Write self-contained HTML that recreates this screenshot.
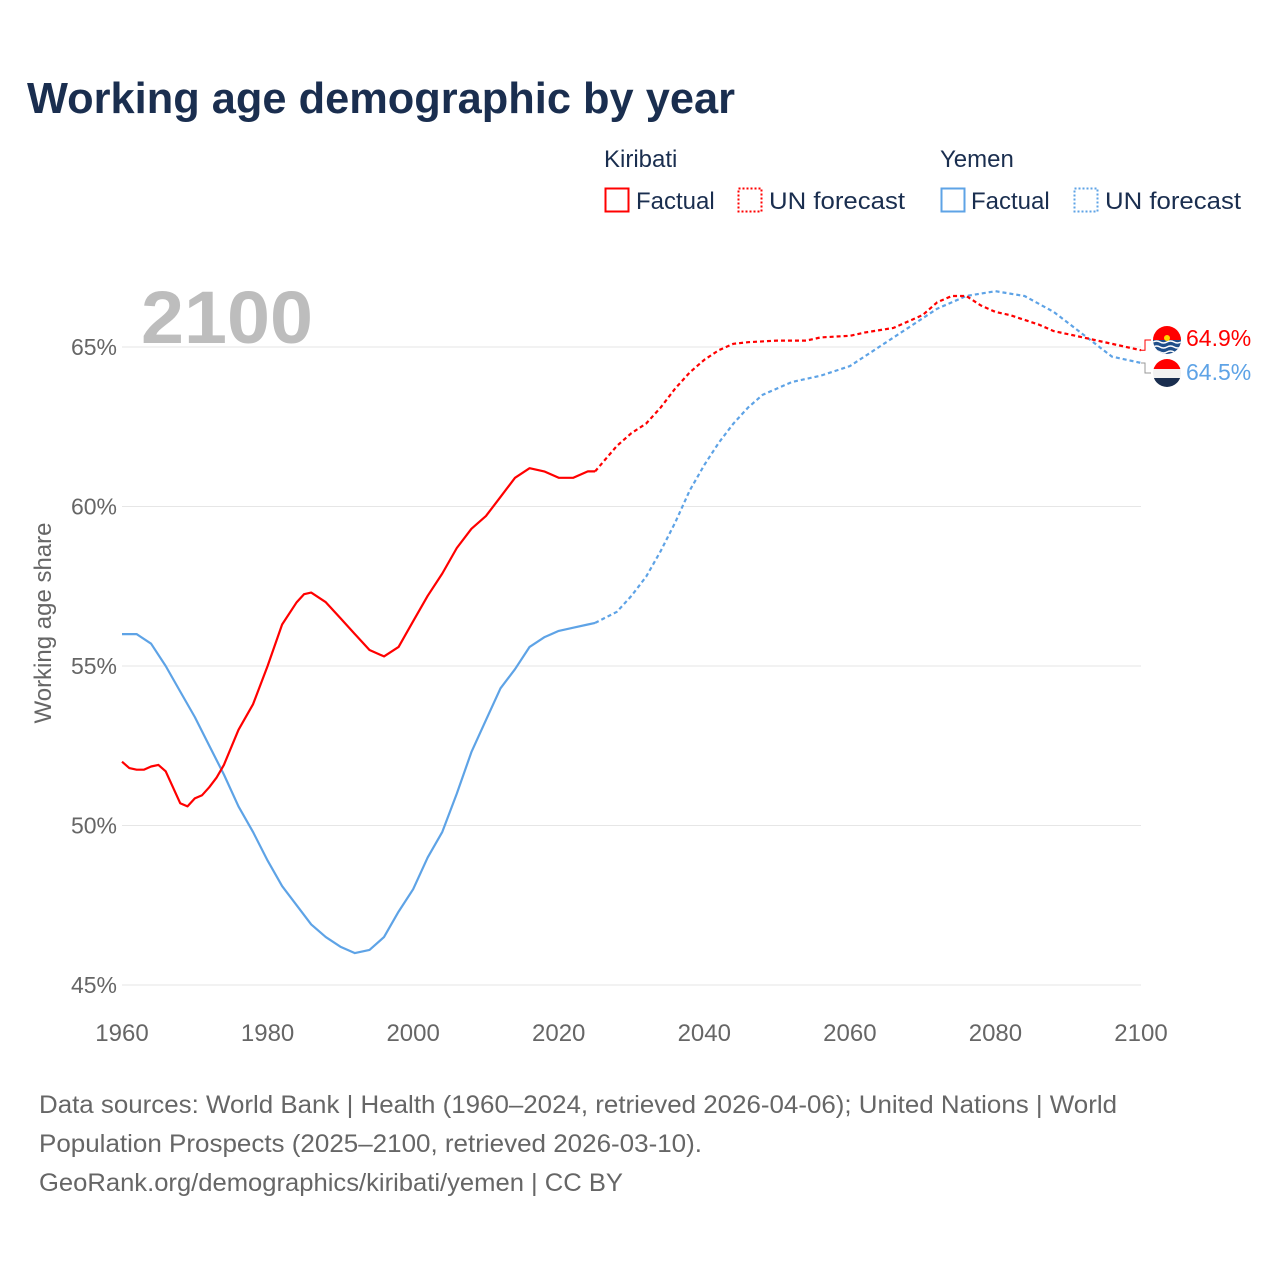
<!DOCTYPE html>
<html><head><meta charset="utf-8">
<style>
body{margin:0;background:#fff;}
svg{display:block;font-family:"Liberation Sans",sans-serif;}
</style></head>
<body>
<svg id="chart" width="1280" height="1280" viewBox="0 0 1280 1280" xmlns="http://www.w3.org/2000/svg">
<rect width="1280" height="1280" fill="#fff"/>
<text x="27" y="113" font-size="44" font-weight="bold" fill="#1a2e4f" textLength="708" lengthAdjust="spacingAndGlyphs">Working age demographic by year</text>
<g font-size="24" fill="#1a2e4f">
<text x="604" y="167">Kiribati</text>
<text x="940" y="167">Yemen</text>
<g><rect x="605.5" y="188.5" width="23" height="23" fill="none" stroke="#ff0000" stroke-width="2"/><text x="636" y="209">Factual</text></g>
<g><rect x="738.5" y="188.5" width="23" height="23" fill="none" stroke="#ff0000" stroke-width="2" stroke-dasharray="2,2"/><text x="769" y="209" textLength="136" lengthAdjust="spacingAndGlyphs">UN forecast</text></g>
<g><rect x="941.5" y="188.5" width="23" height="23" fill="none" stroke="#5ea3e6" stroke-width="2"/><text x="971" y="209">Factual</text></g>
<g><rect x="1074.5" y="188.5" width="23" height="23" fill="none" stroke="#5ea3e6" stroke-width="2" stroke-dasharray="2,2"/><text x="1105" y="209" textLength="136" lengthAdjust="spacingAndGlyphs">UN forecast</text></g>
</g>
<text x="141" y="343" font-size="74" font-weight="bold" fill="#bdbdbd" textLength="172" lengthAdjust="spacingAndGlyphs">2100</text>
<text transform="translate(51,623) rotate(-90)" text-anchor="middle" font-size="24" fill="#666">Working age share</text>
<g id="grid"></g>
<g id="series"></g>
<g font-size="25" fill="#666">
<text x="39" y="1113" textLength="1078" lengthAdjust="spacingAndGlyphs">Data sources: World Bank | Health (1960–2024, retrieved 2026-04-06); United Nations | World</text>
<text x="39" y="1152" textLength="663" lengthAdjust="spacingAndGlyphs">Population Prospects (2025–2100, retrieved 2026-03-10).</text>
<text x="39" y="1191" textLength="584" lengthAdjust="spacingAndGlyphs">GeoRank.org/demographics/kiribati/yemen | CC BY</text>
</g>
</svg>
<script>
const xTicks=[1960,1980,2000,2020,2040,2060,2080,2100];
const yTicks=[45,50,55,60,65];
const kirYears=[1960,1961,1962,1963,1964,1965,1966,1968,1969,1970,1971,1972,1973,1974,1976,1978,1980,1982,1984,1985,1986,1988,1990,1992,1994,1996,1998,2000,2002,2004,2006,2008,2010,2012,2014,2016,2018,2020,2022,2024,2025];
const kirVals=[52.0,51.8,51.75,51.75,51.85,51.9,51.7,50.7,50.6,50.85,50.95,51.2,51.5,51.9,53.0,53.8,55.0,56.3,57.0,57.25,57.3,57.0,56.5,56.0,55.5,55.3,55.6,56.4,57.2,57.9,58.7,59.3,59.7,60.3,60.9,61.2,61.1,60.9,60.9,61.1,61.1];
const kirFYears=[2025,2028,2030,2032,2034,2036,2038,2040,2042,2044,2046,2050,2054,2056,2060,2062,2066,2070,2072,2074,2076,2078,2080,2082,2086,2088,2090,2094,2096,2100];
const kirFVals=[61.1,61.9,62.3,62.6,63.1,63.7,64.2,64.6,64.9,65.1,65.15,65.2,65.2,65.3,65.35,65.45,65.6,66.0,66.4,66.6,66.6,66.3,66.1,66.0,65.7,65.5,65.4,65.2,65.1,64.9];
const yemYears=[1960,1962,1964,1966,1968,1970,1972,1974,1976,1978,1980,1982,1984,1986,1988,1990,1992,1994,1996,1998,2000,2002,2004,2006,2008,2010,2012,2014,2016,2018,2020,2022,2024,2025];
const yemVals=[56.0,56.0,55.7,55.0,54.2,53.4,52.5,51.6,50.6,49.8,48.9,48.1,47.5,46.9,46.5,46.2,46.0,46.1,46.5,47.3,48.0,49.0,49.8,51.0,52.3,53.3,54.3,54.9,55.6,55.9,56.1,56.2,56.3,56.35];
const yemFYears=[2025,2028,2030,2032,2034,2036,2038,2040,2042,2044,2046,2048,2050,2052,2056,2060,2064,2068,2072,2076,2080,2084,2088,2092,2096,2100];
const yemFVals=[56.35,56.7,57.2,57.8,58.6,59.5,60.5,61.3,62.0,62.6,63.1,63.5,63.7,63.9,64.1,64.4,65.0,65.6,66.2,66.6,66.75,66.6,66.1,65.4,64.7,64.5];
const NS="http://www.w3.org/2000/svg";
const X=y=>122+(y-1960)*(1019/140);
const Y=v=>347+(65-v)*31.9;
function mk(tag,attrs,parent){const e=document.createElementNS(NS,tag);for(const k in attrs)e.setAttribute(k,attrs[k]);parent.appendChild(e);return e;}
const grid=document.getElementById('grid');
yTicks.forEach(t=>{
 const l=mk('line',{x1:122,x2:1141,y1:Y(t),y2:Y(t),stroke:'#e6e6e6','stroke-width':1},grid);
 
 
 const tx=mk('text',{x:117,y:Y(t)+8,'text-anchor':'end','font-size':23,fill:'#666'},grid);
 tx.textContent=t+'%';
 
 
});
xTicks.forEach(t=>{
 const tx=mk('text',{x:X(t),y:1041,'text-anchor':'middle','font-size':24,fill:'#666'},grid);
 tx.textContent=t;
 
 
});
const ser=document.getElementById('series');
function line(ys,vs,color,dash,name){
 const d=ys.map((y,i)=>(i?'L':'M')+X(y).toFixed(1)+','+Y(vs[i]).toFixed(1)).join('');
 const p=mk('path',{d:d,fill:'none',stroke:color,'stroke-width':2.2,'stroke-linejoin':'round'},ser);
 if(dash)p.setAttribute('stroke-dasharray','4,3');
 
 
}
line(yemYears,yemVals,'#5ea3e6',false,'yemen-factual-line');
line(yemFYears,yemFVals,'#5ea3e6',true,'yemen-forecast-line');
line(kirYears,kirVals,'#ff0000',false,'kiribati-factual-line');
line(kirFYears,kirFVals,'#ff0000',true,'kiribati-forecast-line');
const kEnd=kirFVals[kirFVals.length-1], yEnd=yemFVals[yemFVals.length-1];
const c1=mk('path',{d:`M${X(2100)},${Y(kEnd)} h4 V${340} h6`,fill:'none',stroke:'#ff0000','stroke-width':1},ser);


const c2=mk('path',{d:`M${X(2100)},${Y(yEnd)} h4 V${373} h6`,fill:'none',stroke:'#999','stroke-width':1},ser);


const fk=mk('g',{},ser);


const ck=mk('clipPath',{id:'ck'},fk);
mk('circle',{cx:1167,cy:340,r:14},ck);
const gk=mk('g',{'clip-path':'url(#ck)'},fk);
mk('rect',{x:1153,y:326,width:28,height:14,fill:'#ff0000'},gk);
mk('rect',{x:1153,y:340,width:28,height:14,fill:'#1f4f8a'},gk);
[342,347,352].forEach(yy=>mk('path',{d:`M1153,${yy} q3.5,-2 7,0 t7,0 t7,0 t7,0`,fill:'none',stroke:'#fff','stroke-width':1.4},gk));
mk('circle',{cx:1167,cy:338,r:3,fill:'#ffd700'},gk);
const fy=mk('g',{},ser);


const cy=mk('clipPath',{id:'cy'},fy);
mk('circle',{cx:1167,cy:373,r:14},cy);
const gy=mk('g',{'clip-path':'url(#cy)'},fy);
mk('rect',{x:1153,y:359,width:28,height:10,fill:'#ff0000'},gy);
mk('rect',{x:1153,y:369,width:28,height:9,fill:'#f2f2f2'},gy);
mk('rect',{x:1153,y:378,width:28,height:9,fill:'#1a2e4f'},gy);
const tk=mk('text',{x:1186,y:346,'font-size':23,fill:'#ff0000'},ser);
tk.textContent=kEnd.toFixed(1)+'%';


const ty=mk('text',{x:1186,y:380,'font-size':23,fill:'#5ea3e6'},ser);
ty.textContent=yEnd.toFixed(1)+'%';


</script>
</body></html>
